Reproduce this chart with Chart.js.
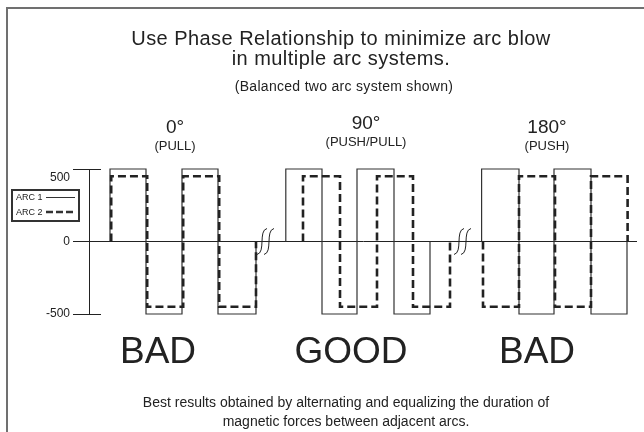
<!DOCTYPE html>
<html>
<head>
<meta charset="utf-8">
<script src="https://cdn.jsdelivr.net/npm/chart.js@4/dist/chart.umd.min.js"></script>
<style>
html,body{margin:0;padding:0;background:#fff;}
canvas{display:block;}
</style>
</head>
<body>
<canvas id="c" width="644" height="432"></canvas>
<script>
// ---- Data (x in electrical degrees along a broken time axis, y in amps) ----
const sections = ["0°", "90°", "180°"];
const sectionNotes = ["(PULL)", "(PUSH/PULL)", "(PUSH)"];
const verdicts = ["BAD", "GOOD", "BAD"];
const yTicks = [-500, 0, 500];

// switching edges of each arc, per section
const arc1Edges = [
  [105, 285, 465, 645, 835],
  [984, 1165, 1340, 1525, 1705],
  [1963, 2150, 2325, 2510, 2690]
];
const arc1Levels = [
  [500, -500, 500, -500],
  [500, -500, 500, -500],
  [500, -500, 500, -500]
];
const arc2Edges = [
  [111, 291, 471, 651, 835],
  [1070, 1255, 1440, 1620, 1805],
  [1970, 2150, 2330, 2510, 2693]
];
const arc2Levels = [
  [450, -450, 450, -450],
  [450, -450, 450, -450],
  [-450, 450, -450, 450]
];
const axisBreaks = [885, 1870];
const xRange = [0, 2740];

// ---- build square-wave point lists from the arrays ----
function wave(edges, levels) {
  const pts = [];
  edges.forEach((e, s) => {
    const lv = levels[s];
    pts.push({x: e[0], y: 0});
    for (let i = 0; i < lv.length; i++) {
      pts.push({x: e[i], y: lv[i]});
      pts.push({x: e[i + 1], y: lv[i]});
    }
    pts.push({x: e[e.length - 1], y: 0});
    pts.push({x: e[e.length - 1], y: null});
  });
  return pts;
}

const INK = '#222';
const FONT = '"Liberation Sans", Arial, Helvetica, sans-serif';

const decor = {
  id: 'decor',
  beforeDraw(chart) {
    const ctx = chart.ctx;
    ctx.save();
    ctx.fillStyle = '#fff';
    ctx.fillRect(0, 0, chart.width, chart.height);
    // frame
    ctx.strokeStyle = '#707070';
    ctx.lineWidth = 2;
    ctx.beginPath();
    ctx.moveTo(7, 432);
    ctx.lineTo(7, 8);
    ctx.lineTo(644, 8);
    ctx.stroke();
    ctx.restore();
  },
  afterDraw(chart) {
    const ctx = chart.ctx;
    const xs = chart.scales.x, ys = chart.scales.y;
    const left = chart.chartArea.left;
    ctx.save();
    // inner parts of the +/-500 tick marks
    ctx.strokeStyle = INK;
    ctx.lineWidth = 1;
    [500, -500].forEach(v => {
      const y = Math.round(ys.getPixelForValue(v)) + 0.5;
      ctx.beginPath();
      ctx.moveTo(left, y);
      ctx.lineTo(left + 12, y);
      ctx.stroke();
    });
    // axis break marks
    const y0 = ys.getPixelForValue(0);
    axisBreaks.forEach(b => {
      const xc = xs.getPixelForValue(b);
      [-4, 3].forEach(dx => {
        const x = xc + dx;
        ctx.beginPath();
        ctx.moveTo(x + 5, y0 - 13);
        ctx.bezierCurveTo(x - 4, y0 - 11, x + 4, y0 + 11, x - 5, y0 + 13);
        ctx.stroke();
      });
    });
    // legend box
    ctx.lineWidth = 2;
    ctx.strokeStyle = '#333';
    ctx.strokeRect(12, 190, 67, 31);
    ctx.fillStyle = INK;
    ctx.font = '9px ' + FONT;
    ctx.textAlign = 'left';
    ctx.textBaseline = 'alphabetic';
    ctx.fillText('ARC 1', 16, 200);
    ctx.fillText('ARC 2', 16, 215);
    ctx.lineWidth = 1;
    ctx.beginPath();
    ctx.moveTo(46, 197.5);
    ctx.lineTo(75, 197.5);
    ctx.stroke();
    ctx.lineWidth = 2.5;
    ctx.setLineDash([7, 3]);
    ctx.beginPath();
    ctx.moveTo(46, 212);
    ctx.lineTo(75, 212);
    ctx.stroke();
    ctx.setLineDash([]);

    // texts
    ctx.textAlign = 'center';
    ctx.fillStyle = INK;
    ctx.font = '20px ' + FONT;
    ctx.letterSpacing = '0.45px';
    ctx.fillText('Use Phase Relationship to minimize arc blow', 341, 45);
    ctx.fillText('in multiple arc systems.', 341, 65);
    ctx.font = '14px ' + FONT;
    ctx.letterSpacing = '0.3px';
    ctx.fillText('(Balanced two arc system shown)', 344, 91);
    ctx.letterSpacing = '0px';

    const secX = [175, 366, 547];
    const secY = [133, 129, 133];
    sections.forEach((s, i) => {
      ctx.font = '19px ' + FONT;
      ctx.fillText(s, secX[i], secY[i]);
      ctx.font = '13px ' + FONT;
      ctx.fillText(sectionNotes[i], secX[i], secY[i] + 17);
    });
    const vX = [158, 351, 537];
    ctx.font = '37px ' + FONT;
    verdicts.forEach((v, i) => ctx.fillText(v, vX[i], 363));

    ctx.font = '14px ' + FONT;
    ctx.fillText('Best results obtained by alternating and equalizing the duration of', 346, 407);
    ctx.fillText('magnetic forces between adjacent arcs.', 346, 426);
    ctx.restore();
  }
};

new Chart(document.getElementById('c'), {
  type: 'line',
  data: {
    datasets: [
      {
        label: 'ARC 1',
        data: wave(arc1Edges, arc1Levels),
        borderColor: '#333',
        borderWidth: 1.2,
        pointRadius: 0,
        spanGaps: false,
        tension: 0,
        clip: 6,
        order: 2
      },
      {
        label: 'ARC 2',
        data: wave(arc2Edges, arc2Levels),
        borderColor: '#222',
        borderWidth: 2.6,
        borderDash: [8, 4],
        pointRadius: 0,
        spanGaps: false,
        tension: 0,
        clip: 6,
        order: 1
      }
    ]
  },
  options: {
    responsive: false,
    animation: false,
    devicePixelRatio: 1,
    layout: {padding: {left: 0, top: 169, right: 7, bottom: 118}},
    plugins: {legend: {display: false}, tooltip: {enabled: false}, title: {display: false}},
    scales: {
      x: {
        type: 'linear',
        min: xRange[0],
        max: xRange[1],
        display: false
      },
      y: {
        type: 'linear',
        min: yTicks[0],
        max: yTicks[yTicks.length - 1],
        afterFit(scale) { scale.width = 89; },
        afterBuildTicks(scale) { scale.ticks = yTicks.map(v => ({value: v})); },
        border: {display: true, color: INK, width: 1},
        grid: {
          color: c => (c.tick && c.tick.value === 0) ? INK : 'rgba(0,0,0,0)',
          tickColor: INK,
          tickLength: 16,
          lineWidth: 1
        },
        ticks: {
          padding: 3,
          color: INK,
          font: {family: FONT, size: 12, lineHeight: 1.5},
          callback: v => v === 500 ? ['', String(v)] : String(v)
        }
      }
    }
  },
  plugins: [decor]
});
</script>
</body>
</html>
